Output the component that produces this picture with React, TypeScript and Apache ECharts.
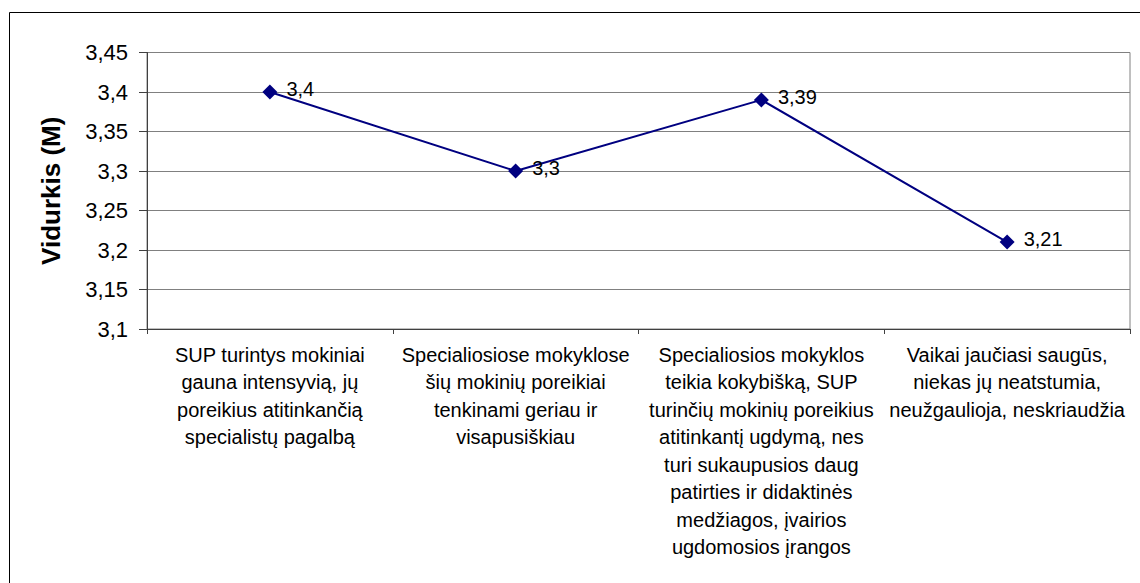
import React, { useEffect, useRef } from "react";
import * as echarts from "echarts";

const categories: string[] = [
  "SUP turintys mokiniai\ngauna intensyvią, jų\nporeikius atitinkančią\nspecialistų pagalbą",
  "Specialiosiose mokyklose\nšių mokinių poreikiai\ntenkinami geriau ir\nvisapusiškiau",
  "Specialiosios mokyklos\nteikia kokybišką, SUP\nturinčių mokinių poreikius\natitinkantį ugdymą, nes\nturi sukaupusios daug\npatirties ir didaktinės\nmedžiagos, įvairios\nugdomosios įrangos",
  "Vaikai jaučiasi saugūs,\nniekas jų neatstumia,\nneužgaulioja, neskriaudžia",
];
const values: number[] = [3.4, 3.3, 3.39, 3.21];
const yMin = 3.1;
const yMax = 3.45;
const yStep = 0.05;
const yAxisName = "Vidurkis (M)";

const fmt = (v: number) => String(Math.round(v * 100) / 100).replace(".", ",");

export default function App() {
  const ref = useRef<HTMLDivElement>(null);
  useEffect(() => {
    if (!ref.current) return;
    const chart = echarts.init(ref.current, null, { renderer: "svg" });
    const font = "Arial, 'Liberation Sans', sans-serif";
    chart.setOption({
      animation: false,
      backgroundColor: "#ffffff",
      textStyle: { fontFamily: font },
      graphic: [
        {
          type: "rect",
          shape: { x: 9.5, y: 12.5, width: 1200, height: 650 },
          style: { fill: "none", stroke: "#000000", lineWidth: 1 },
          silent: true,
        },
      ],
      grid: {
        left: 147,
        top: 52.5,
        right: 10,
        bottom: 254,
        show: true,
        borderColor: "#808080",
        borderWidth: 1,
        backgroundColor: "transparent",
      },
      xAxis: {
        type: "category",
        data: categories,
        boundaryGap: true,
        axisLine: { show: true, lineStyle: { color: "#404040", width: 1 } },
        axisTick: { show: true, length: 5, lineStyle: { color: "#404040" } },
        axisLabel: {
          color: "#000000",
          fontSize: 20,
          fontFamily: font,
          lineHeight: 27.5,
          margin: 12,
          interval: 0,
          align: "center",
        },
        splitLine: { show: false },
      },
      yAxis: {
        type: "value",
        min: yMin,
        max: yMax,
        interval: yStep,
        name: yAxisName,
        nameLocation: "middle",
        nameGap: 83,
        nameRotate: 90,
        nameTextStyle: {
          color: "#000000",
          fontSize: 26,
          fontWeight: "bold",
          fontFamily: font,
        },
        axisLine: { show: true, lineStyle: { color: "#404040", width: 1 } },
        axisTick: { show: true, length: 8, lineStyle: { color: "#404040" } },
        axisLabel: {
          color: "#000000",
          fontSize: 22,
          fontFamily: font,
          margin: 19,
          formatter: (v: number) => fmt(v),
        },
        splitLine: { show: true, lineStyle: { color: "#808080", width: 1 } },
      },
      series: [
        {
          type: "line",
          data: values,
          symbol: "diamond",
          symbolSize: 15,
          itemStyle: { color: "#000080" },
          lineStyle: { color: "#000080", width: 2 },
          label: {
            show: true,
            position: "right",
            distance: 9,
            offset: [0, -3],
            color: "#000000",
            fontSize: 20,
            fontFamily: font,
            formatter: (p: any) => fmt(p.value),
          },
        },
      ],
    });
    return () => chart.dispose();
  }, []);
  return (
    <div
      ref={ref}
      style={{ position: "fixed", left: 0, top: 0, width: 1140, height: 583 }}
    />
  );
}
